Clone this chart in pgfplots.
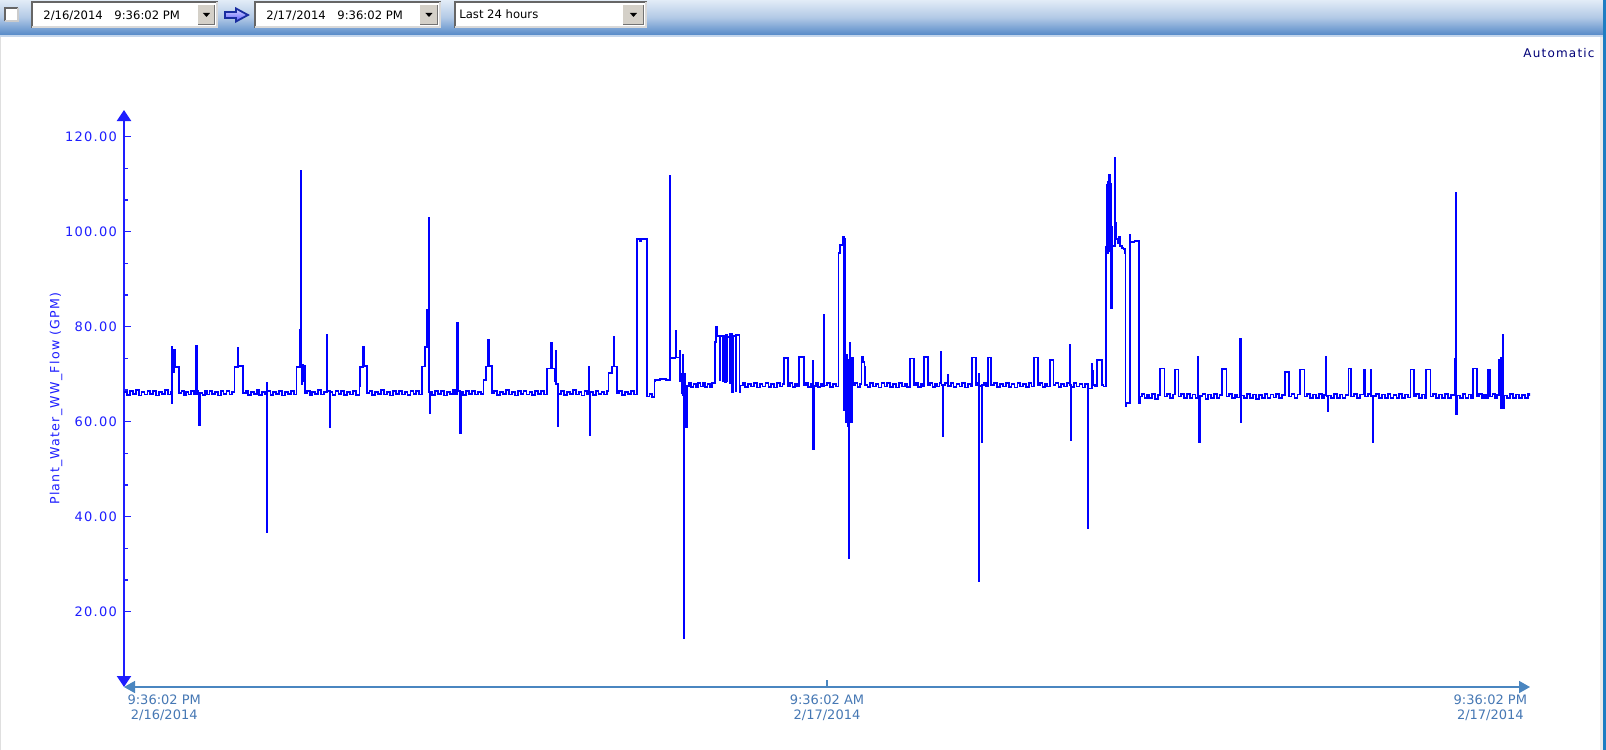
\documentclass[border=0pt]{standalone}
\usepackage{fontspec}
\setmainfont{DejaVu Sans}
\newfontfamily\spaced[LetterSpace=10]{DejaVu Sans}
\usepackage{pgfplots}
\usepackage{pgfplotstable}
\pgfplotsset{compat=1.18}
\usetikzlibrary{arrows.meta}

\definecolor{trend}{RGB}{0,0,255}
\definecolor{yax}{RGB}{30,30,255}
\definecolor{xax}{RGB}{74,134,192}
\definecolor{xlab}{RGB}{70,120,180}
\definecolor{navy}{RGB}{0,0,120}
\definecolor{barTop}{RGB}{226,236,247}
\definecolor{barMid}{RGB}{178,201,230}
\definecolor{barBot}{RGB}{86,138,200}
\definecolor{btn}{RGB}{212,208,200}
\definecolor{edge}{RGB}{30,125,195}
\definecolor{icon}{RGB}{25,45,160}

% Plant_Water_WW_Flow, hours after 9:36:02 PM 2/16/2014
\pgfplotstableread{
h flow
0.00 66.3
0.05 65.6
0.10 66.4
0.15 65.8
0.20 66.6
0.25 65.5
0.30 66.2
0.35 65.7
0.40 66.5
0.45 65.9
0.50 66.4
0.55 65.5
0.60 66.3
0.65 65.8
0.70 66.6
0.75 65.7
0.80 66.2
0.81 75.8
0.815 63.9
0.82 71.0
0.83 74.5
0.84 70.5
0.85 72.0
0.86 75.1
0.865 71.5
0.94 66.0
0.98 66.5
1.02 65.6
1.06 66.3
1.10 65.7
1.15 66.4
1.20 65.8
1.235 76.0
1.245 66.5
1.26 65.9
1.285 59.3
1.295 66.1
1.34 65.6
1.38 66.4
1.42 65.7
1.46 66.5
1.50 65.8
1.55 66.3
1.60 65.5
1.65 66.4
1.70 65.8
1.75 66.5
1.80 65.7
1.84 66.2
1.885 71.5
1.945 75.6
1.95 71.8
2.035 66.0
2.08 66.5
2.12 65.6
2.17 66.3
2.22 65.8
2.27 66.6
2.31 65.6
2.36 66.2
2.40 65.7
2.435 68.1
2.44 36.8
2.45 66.5
2.50 65.6
2.55 66.3
2.60 65.8
2.65 66.5
2.70 65.5
2.75 66.2
2.80 65.8
2.85 66.4
2.90 65.7
2.945 71.5
2.995 79.3
3.00 71.8
3.02 112.8
3.025 71.5
3.03 68.0
3.04 72.0
3.05 68.5
3.06 71.8
3.09 66.0
3.13 66.5
3.17 65.6
3.21 66.3
3.26 65.8
3.31 66.6
3.36 65.7
3.41 66.2
3.47 78.3
3.475 66.5
3.515 58.9
3.52 66.2
3.56 65.6
3.61 66.4
3.66 65.8
3.71 66.5
3.76 65.6
3.81 66.3
3.86 65.7
3.91 66.4
3.96 65.6
4.02 67.4
4.03 71.5
4.085 75.8
4.09 71.8
4.145 66.0
4.19 66.5
4.24 65.6
4.29 66.3
4.34 65.8
4.39 66.6
4.44 65.7
4.49 66.2
4.54 65.5
4.59 66.4
4.64 65.8
4.69 66.5
4.74 65.7
4.79 66.3
4.84 65.6
4.89 66.4
4.94 65.8
4.99 66.5
5.04 65.7
5.08 71.6
5.135 75.8
5.175 83.5
5.185 75.8
5.19 83.5
5.195 76.0
5.20 102.8
5.205 66.2
5.215 61.8
5.22 66.3
5.26 65.6
5.31 66.5
5.36 65.8
5.41 66.4
5.46 65.5
5.51 66.3
5.56 65.8
5.61 66.6
5.65 65.7
5.685 80.7
5.70 66.5
5.74 57.6
5.755 66.2
5.79 65.6
5.84 66.4
5.89 65.8
5.94 66.5
5.99 65.7
6.04 66.3
6.09 65.8
6.135 68.8
6.175 71.6
6.22 77.2
6.225 71.8
6.275 66.0
6.32 66.5
6.37 65.6
6.42 66.3
6.47 65.8
6.52 66.6
6.57 65.7
6.62 66.2
6.67 65.5
6.72 66.4
6.77 65.8
6.82 66.5
6.87 65.7
6.92 66.3
6.97 65.6
7.02 66.4
7.07 65.8
7.12 66.5
7.17 65.7
7.215 71.2
7.29 76.5
7.30 71.2
7.355 68.5
7.365 74.9
7.37 68.0
7.405 59.1
7.415 65.8
7.46 66.5
7.51 65.6
7.56 66.3
7.61 65.8
7.66 66.6
7.71 65.7
7.76 66.2
7.81 65.5
7.86 66.4
7.90 65.8
7.93 71.6
7.935 66.0
7.955 57.2
7.96 66.2
8.00 65.6
8.05 66.5
8.10 65.8
8.15 66.3
8.20 65.7
8.24 66.4
8.27 70.3
8.325 71.6
8.355 77.9
8.36 71.6
8.41 66.0
8.45 66.5
8.50 65.6
8.55 66.3
8.60 65.8
8.65 66.5
8.70 65.7
8.75 66.7
8.76 98.4
8.80 98.0
8.83 98.5
8.925 65.3
8.97 65.8
9.01 65.2
9.055 68.5
9.07 68.8
9.15 69.0
9.25 68.7
9.315 111.7
9.33 73.4
9.415 79.1
9.42 73.5
9.49 74.9
9.495 68.5
9.525 66.0
9.53 70.0
9.54 65.5
9.545 74.0
9.55 62.0
9.56 14.4
9.565 70.0
9.58 61.0
9.59 58.9
9.605 67.5
9.64 68.2
9.68 67.3
9.72 68.0
9.76 67.2
9.80 68.1
9.84 67.4
9.88 68.2
9.92 67.3
9.96 67.9
10.00 67.2
10.04 68.1
10.085 69.0
10.09 76.8
10.105 80.0
10.12 79.0
10.13 78.0
10.175 68.8
10.18 78.0
10.215 68.5
10.22 78.0
10.265 68.3
10.27 78.3
10.295 68.5
10.30 77.8
10.335 68.2
10.34 78.4
10.385 66.2
10.39 78.0
10.445 66.5
10.45 78.2
10.505 66.2
10.52 67.6
10.56 68.2
10.60 67.3
10.65 68.0
10.70 67.4
10.75 68.2
10.80 67.2
10.85 67.9
10.90 67.4
10.95 68.2
11.00 67.3
11.05 68.0
11.10 67.2
11.15 68.1
11.20 67.4
11.24 67.9
11.265 73.4
11.33 67.5
11.37 68.2
11.41 67.3
11.45 68.0
11.49 67.4
11.52 73.6
11.605 67.6
11.64 68.1
11.68 67.3
11.72 68.0
11.755 72.8
11.76 54.3
11.775 67.5
11.81 68.2
11.85 67.3
11.89 68.0
11.92 67.4
11.95 82.5
11.955 67.6
12.00 68.1
12.05 67.3
12.10 68.0
12.15 67.4
12.195 95.5
12.215 97.2
12.275 98.8
12.28 62.5
12.285 98.8
12.29 62.5
12.295 98.5
12.30 66.0
12.31 98.5
12.315 65.0
12.32 73.0
12.33 60.0
12.34 74.0
12.35 59.0
12.36 73.0
12.37 31.2
12.385 76.5
12.40 73.5
12.41 60.0
12.42 73.5
12.44 67.6
12.48 68.2
12.52 67.3
12.56 68.0
12.59 73.7
12.61 73.5
12.62 72.6
12.64 71.5
12.645 67.8
12.69 67.3
12.73 68.2
12.78 67.4
12.83 68.0
12.88 67.2
12.93 68.1
12.98 67.4
13.03 68.2
13.08 67.3
13.13 67.9
13.18 67.2
13.23 68.1
13.28 67.4
13.33 68.0
13.37 67.3
13.41 73.3
13.485 67.7
13.52 68.1
13.56 67.3
13.60 68.0
13.63 67.4
13.66 73.6
13.725 67.7
13.76 68.2
13.80 67.3
13.84 68.0
13.88 67.4
13.92 68.1
13.95 74.6
13.955 67.7
13.98 57.0
13.985 67.7
14.02 68.1
14.06 69.8
14.065 67.5
14.11 68.2
14.16 67.3
14.21 68.0
14.26 67.4
14.31 68.1
14.36 67.2
14.41 67.9
14.45 67.4
14.48 73.5
14.545 67.7
14.57 68.1
14.59 70.0
14.595 26.5
14.60 67.5
14.64 55.8
14.645 67.7
14.68 68.2
14.72 67.4
14.75 73.5
14.805 67.7
14.85 68.1
14.90 67.3
14.95 68.0
15.00 67.4
15.05 68.2
15.10 67.3
15.15 67.9
15.20 67.2
15.25 68.1
15.30 67.4
15.35 68.0
15.40 67.3
15.45 68.1
15.49 67.4
15.53 73.5
15.605 67.7
15.64 68.1
15.68 67.3
15.72 68.0
15.76 67.4
15.80 73.0
15.865 67.7
15.90 68.2
15.95 67.3
16.00 68.0
16.05 67.4
16.10 68.1
16.14 76.1
16.145 67.7
16.17 56.1
16.175 67.3
16.21 68.1
16.26 67.4
16.31 68.0
16.36 67.2
16.41 67.9
16.45 37.5
16.465 67.0
16.52 72.1
16.525 68.5
16.53 70.7
16.54 67.8
16.58 67.4
16.61 73.0
16.695 67.7
16.72 67.4
16.76 96.8
16.785 109.8
16.79 95.5
16.80 110.5
16.81 96.0
16.82 111.9
16.83 98.0
16.84 110.0
16.845 83.9
16.855 95.0
16.86 84.0
16.865 101.0
16.87 97.0
16.91 115.5
16.915 101.8
16.93 98.5
16.97 97.5
16.98 98.8
17.00 97.0
17.03 96.5
17.06 96.3
17.09 95.5
17.095 63.2
17.11 64.0
17.17 99.3
17.18 97.9
17.25 98.0
17.33 63.9
17.34 65.3
17.38 65.9
17.42 64.9
17.46 65.7
17.50 65.0
17.55 65.8
17.60 64.8
17.65 65.6
17.69 71.2
17.76 65.3
17.80 65.9
17.85 64.9
17.90 65.7
17.94 71.0
18.00 65.3
18.04 65.9
18.09 64.9
18.14 65.8
18.19 65.0
18.24 65.7
18.29 64.9
18.33 73.7
18.335 65.3
18.355 55.8
18.37 65.4
18.41 65.9
18.46 64.8
18.51 65.7
18.56 65.0
18.61 65.8
18.66 64.9
18.70 65.6
18.74 71.1
18.82 65.3
18.86 65.9
18.91 64.9
18.96 65.7
19.00 65.1
19.04 77.5
19.065 60.0
19.075 65.5
19.12 64.9
19.17 65.8
19.22 65.0
19.27 65.7
19.32 64.8
19.37 65.6
19.42 65.0
19.47 65.9
19.52 64.9
19.57 65.7
19.62 65.1
19.67 65.8
19.72 64.9
19.77 65.6
19.82 70.5
19.89 65.3
19.93 65.9
19.98 64.9
20.03 65.7
20.08 71.0
20.15 65.3
20.20 65.8
20.25 64.9
20.30 65.7
20.35 65.0
20.40 65.8
20.45 64.9
20.49 65.6
20.52 73.7
20.525 65.3
20.545 62.3
20.55 65.5
20.60 64.9
20.65 65.8
20.70 65.0
20.75 65.7
20.80 64.9
20.85 65.6
20.90 71.2
20.95 65.3
21.00 65.9
21.05 64.9
21.10 65.7
21.16 71.0
21.19 65.3
21.23 65.8
21.28 71.0
21.285 65.3
21.31 55.8
21.325 65.4
21.37 65.9
21.42 64.9
21.47 65.7
21.52 65.0
21.57 65.8
21.62 64.9
21.67 65.6
21.72 65.0
21.77 65.9
21.82 64.9
21.87 65.7
21.92 65.1
21.96 71.0
22.02 65.3
22.06 65.9
22.11 64.9
22.16 65.7
22.20 65.0
22.23 71.0
22.30 65.3
22.35 65.9
22.40 64.9
22.45 65.7
22.50 65.0
22.55 65.8
22.60 64.9
22.65 65.6
22.71 73.3
22.73 108.2
22.735 65.0
22.74 61.6
22.75 65.5
22.80 64.9
22.85 65.8
22.90 65.0
22.95 65.7
22.99 65.0
23.02 71.2
23.09 65.3
23.13 65.9
23.18 64.9
23.22 65.7
23.25 65.0
23.28 71.0
23.32 65.3
23.36 65.9
23.40 64.9
23.44 65.6
23.475 73.0
23.50 62.8
23.51 73.5
23.53 71.0
23.535 78.3
23.545 62.8
23.56 65.5
23.61 64.9
23.66 65.8
23.71 65.0
23.76 65.7
23.81 64.9
23.86 65.6
23.91 65.0
23.96 65.8
24.00 65.3
}\flowdata

\begin{document}
\begin{tikzpicture}
% window chrome, drawn in screen pixels (1 px = 0.5 bp)
\begin{scope}[x=0.5bp,y=-0.5bp]
 \fill[white] (0,0) rectangle (1606,750);
 \shade[top color=barTop, bottom color=barBot, middle color=barMid] (0,0) rectangle (1603,35);
 \fill[barBot!35!white] (0,35) rectangle (1603,37);
 \fill[gray!25] (0,37) rectangle (1,750);
 \fill[gray!15] (1600.5,37) rectangle (1603,750);
 \fill[edge] (1603,0) rectangle (1606,750);
 % checkbox
 \fill[white] (5,8) rectangle (18,21);
 \draw[line width=0.6bp, black!60] (5,21) |- (18,8);
 \draw[line width=0.6bp, black!20] (18,8) |- (5,21);
 % from combo
 \fill[white] (32,2) rectangle (218,28);
 \draw[line width=1bp, black!60] (32.5,28) |- (218,2.5);
 \draw[line width=1bp, black!15] (217.5,2.5) |- (32.5,27.5);
 \fill[btn] (198,5) rectangle (215,25);
 \draw[line width=0.5bp, white] (198,25) |- (215,5);
 \draw[line width=0.5bp, black!55] (215,5) |- (198,25);
 \fill[black] (203,13) -- (210,13) -- (206.5,17) -- cycle;
 \node[anchor=west, inner sep=0pt, font=\fontsize{5.8bp}{7bp}\selectfont] at (43,15.5) {2/16/2014\hspace{5.8bp}9:36:02 PM};
 % arrow icon
 \shadedraw[top color=blue!15, bottom color=blue!65, draw=icon, line width=0.9bp]
   (225,12) -- (236,12) -- (236,8.5) -- (248,15) -- (236,21.5) -- (236,18) -- (225,18) -- cycle;
 % to combo
 \fill[white] (255,2) rectangle (441,28);
 \draw[line width=1bp, black!60] (255.5,28) |- (441,2.5);
 \draw[line width=1bp, black!15] (440.5,2.5) |- (255.5,27.5);
 \fill[btn] (420,5) rectangle (438,25);
 \draw[line width=0.5bp, white] (420,25) |- (438,5);
 \draw[line width=0.5bp, black!55] (438,5) |- (420,25);
 \fill[black] (425.5,13) -- (432.5,13) -- (429,17) -- cycle;
 \node[anchor=west, inner sep=0pt, font=\fontsize{5.8bp}{7bp}\selectfont] at (266,15.5) {2/17/2014\hspace{5.8bp}9:36:02 PM};
 % range combo
 \fill[white] (455,2) rectangle (647,28);
 \draw[line width=1bp, black!60] (455.5,28) |- (647,2.5);
 \draw[line width=1bp, black!15] (646.5,2.5) |- (455.5,27.5);
 \fill[btn] (623,5) rectangle (644,25);
 \draw[line width=0.5bp, white] (623,25) |- (644,5);
 \draw[line width=0.5bp, black!55] (644,5) |- (623,25);
 \fill[black] (630,13) -- (637,13) -- (633.5,17) -- cycle;
 \node[anchor=west, inner sep=0pt, font=\fontsize{5.8bp}{7bp}\selectfont] at (459,14.5) {Last 24 hours};
 % scale mode
 \node[anchor=east, inner sep=0pt, text=navy, font=\spaced\fontsize{6bp}{7bp}\selectfont] at (1595,53) {Automatic};
\end{scope}

\begin{axis}[
  at={(62bp,-343.5bp)}, anchor=south west,
  scale only axis, width=703bp, height=288.5bp,
  xmin=0, xmax=24, ymin=4.15, ymax=125.6,
  axis x line*=bottom, axis y line*=left,
  x axis line style={draw=xax, line width=0.8bp, {Triangle[length=5.5bp,width=6bp]}-{Triangle[length=5.5bp,width=6bp]}},
  y axis line style={draw=yax, line width=1bp, {Triangle[length=5.5bp,width=7bp]}-{Triangle[length=5.5bp,width=7bp]}},
  tick align=inside,
  major tick length=3.5bp, minor tick length=2bp,
  xtick style={xax, line width=0.7bp},
  ytick style={yax, line width=0.7bp},
  ytick={20,40,...,120},
  yticklabels={20.00,40.00,60.00,80.00,100.00,120.00},
  minor y tick num=2,
  yticklabel style={font=\spaced\fontsize{6.5bp}{7.5bp}\selectfont, text=yax, inner sep=0pt, xshift=-3.3bp},
  ylabel={Plant\_Water\_WW\_Flow (GPM)},
  ylabel style={at={(axis description cs:-0.0436,0.5)}, anchor=south, inner sep=0pt,
    font=\spaced\fontsize{6.3bp}{7.5bp}\selectfont, text=yax},
  xtick={12},
  xticklabels={{\begin{tabular}{@{}c@{}}9:36:02 AM\\2/17/2014\end{tabular}}},
  extra x ticks={0,24},
  extra x tick labels={
    {\makebox[0pt][l]{\hspace{1.8bp}\begin{tabular}{@{}c@{}}9:36:02 PM\\2/16/2014\end{tabular}}},
    {\makebox[0pt][r]{\begin{tabular}{@{}c@{}}9:36:02 PM\\2/17/2014\end{tabular}\hspace{1.5bp}}}},
  extra x tick style={major tick length=0pt},
  xticklabel style={font=\fontsize{6.5bp}{7.5bp}\selectfont, text=xlab, inner sep=0pt, yshift=-3.5bp},
]
\addplot[const plot, trend, line width=0.9bp] table[x=h, y=flow] {\flowdata};
\end{axis}
\pgfresetboundingbox
\path[use as bounding box] (0,0) rectangle (803bp,-375bp);
\end{tikzpicture}
\end{document}
